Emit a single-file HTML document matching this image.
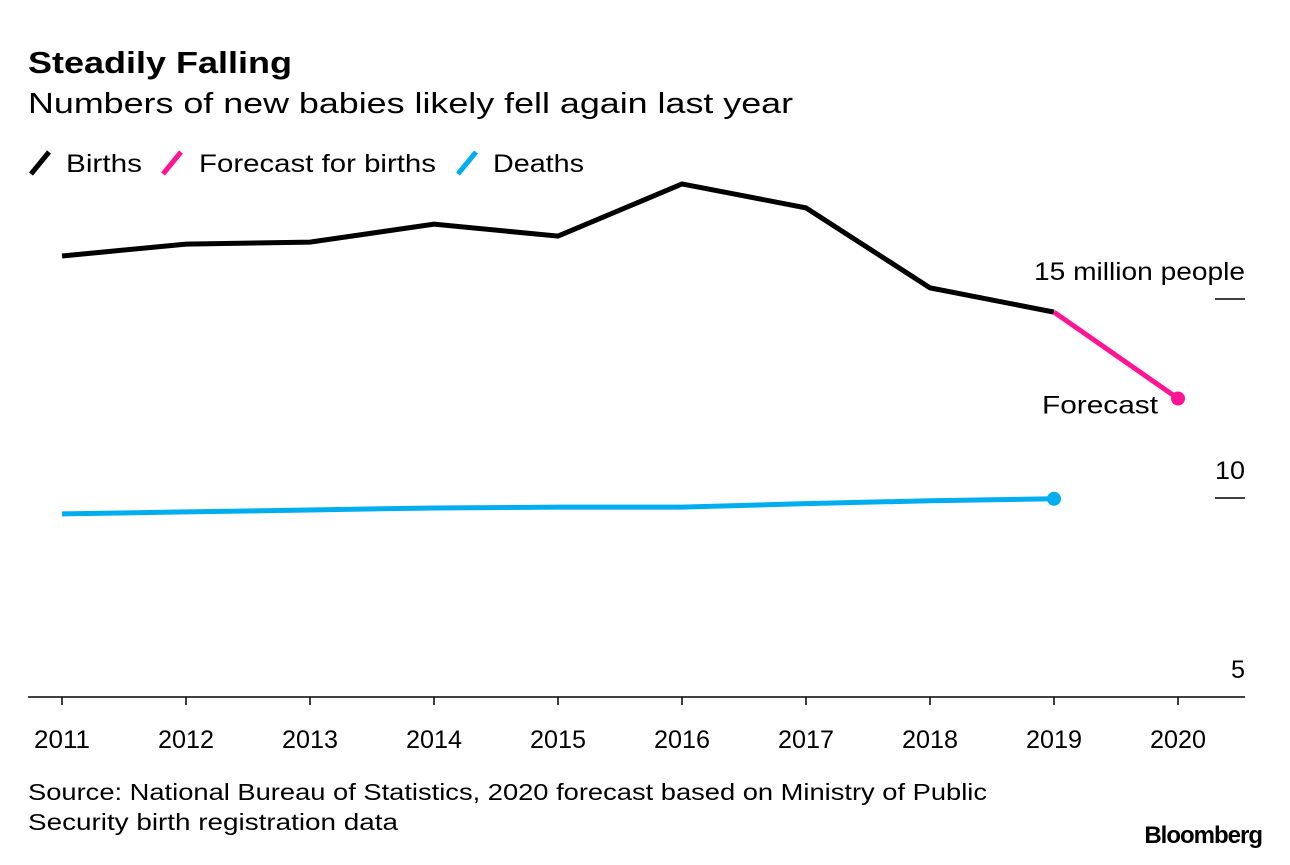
<!DOCTYPE html>
<html><head><meta charset="utf-8"><style>
body{margin:0;background:#fff;font-family:"Liberation Sans",sans-serif;}
svg text{font-family:"Liberation Sans",sans-serif;}
</style></head><body>
<svg width="1290" height="860">
<text x="28" y="73" font-size="31" font-weight="bold" textLength="264" lengthAdjust="spacingAndGlyphs">Steadily Falling</text>
<text x="28" y="113" font-size="29" textLength="765" lengthAdjust="spacingAndGlyphs">Numbers of new babies likely fell again last year</text>
<g>
<line x1="31" y1="174" x2="49" y2="152" stroke="#000" stroke-width="5"/>
<text x="66" y="172" font-size="25" textLength="76" lengthAdjust="spacingAndGlyphs">Births</text>
<line x1="163" y1="174" x2="181" y2="152" stroke="#ff1493" stroke-width="5"/>
<text x="199" y="172" font-size="25" textLength="237" lengthAdjust="spacingAndGlyphs">Forecast for births</text>
<line x1="458" y1="174" x2="476" y2="152" stroke="#00aeef" stroke-width="5"/>
<text x="493" y="172" font-size="25" textLength="91" lengthAdjust="spacingAndGlyphs">Deaths</text>
</g>
<g id="plot"></g>
<text x="28" y="800" font-size="23" textLength="959" lengthAdjust="spacingAndGlyphs">Source: National Bureau of Statistics, 2020 forecast based on Ministry of Public</text>
<text x="28" y="830" font-size="23" textLength="370" lengthAdjust="spacingAndGlyphs">Security birth registration data</text>
<text x="1262" y="843" font-size="24" font-weight="bold" text-anchor="end" letter-spacing="-1">Bloomberg</text>
</svg>
<script>
const years=[2011,2012,2013,2014,2015,2016,2017,2018,2019,2020];
const births=[16.08,16.38,16.43,16.88,16.58,17.89,17.29,15.28,14.67];
const forecast=[14.67,12.5];
const deaths=[9.6,9.65,9.7,9.75,9.77,9.77,9.86,9.93,9.98];
const yTicks=[5,10,15];
const yTickLabels=["5","10","15 million people"];
const yLabelWidths=[14,30,211];
const X=i=>62+i*124;
const Y=v=>697-(v-5)*39.8;
const g=document.getElementById('plot');
const NS='http://www.w3.org/2000/svg';
function mk(t,a){const e=document.createElementNS(NS,t);for(const k in a)e.setAttribute(k,a[k]);g.appendChild(e);return e;}
let base=mk('line',{x1:28,x2:1245,y1:697,y2:697,stroke:'#000','stroke-width':1.5});


yTicks.forEach((v,i)=>{
 if(v>5){let l=mk('line',{x1:1215,x2:1245,y1:Y(v),y2:Y(v),stroke:'#000','stroke-width':1.5});
 
 }
 let t=mk('text',{x:1245,y:Y(v)-19,'font-size':25,'text-anchor':'end',textLength:yLabelWidths[i],lengthAdjust:'spacingAndGlyphs'});t.textContent=yTickLabels[i];
 
 
});
years.forEach((y,i)=>{
 let l=mk('line',{x1:X(i),x2:X(i),y1:697,y2:705,stroke:'#000','stroke-width':1.5});
 
 
 let t=mk('text',{x:X(i),y:748,'font-size':25,'text-anchor':'middle',textLength:56,lengthAdjust:'spacingAndGlyphs'});t.textContent=y;
 
 
});
function line(arr,off,color,name){
 let p=mk('polyline',{points:arr.map((v,i)=>X(i+off)+','+Y(v)).join(' '),fill:'none',stroke:color,'stroke-width':5,'stroke-linejoin':'miter'});
 
 
}
line(births,0,'#000','births-line');
line(forecast,8,'#ff1493','forecast-line');
line(deaths,0,'#00aeef','deaths-line');
let c1=mk('circle',{cx:X(9),cy:Y(forecast[1]),r:7,fill:'#ff1493'});


let c2=mk('circle',{cx:X(8),cy:Y(deaths[8]),r:7,fill:'#00aeef'});


let ft=mk('text',{x:X(9)-20,y:Y(forecast[1])+15,'font-size':25,'text-anchor':'end',textLength:116,lengthAdjust:'spacingAndGlyphs'});ft.textContent='Forecast';


</script>
</body></html>
